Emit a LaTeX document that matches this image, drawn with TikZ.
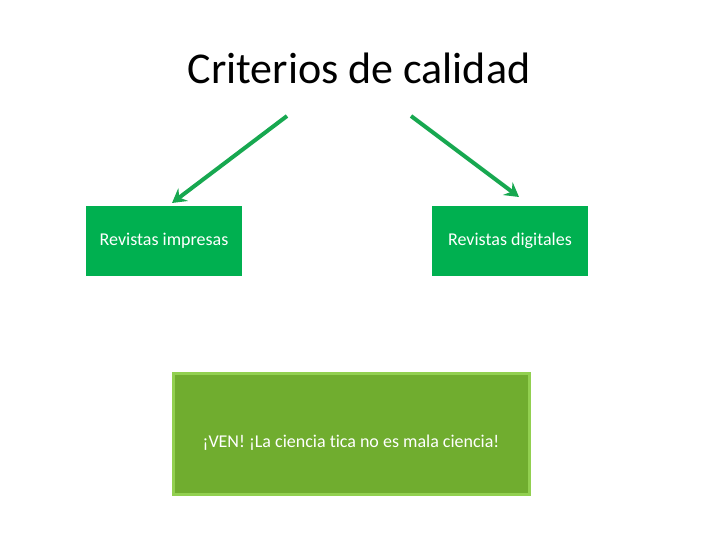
\documentclass[tikz,border=0pt]{standalone}
\usepackage{fontspec}
\setmainfont[Ligatures=NoCommon]{Carlito}
\usetikzlibrary{arrows.meta}
\definecolor{boxgreen}{HTML}{00B050}
\definecolor{arrowgreen}{HTML}{17A850}
\definecolor{leafgreen}{HTML}{70AD2F}
\definecolor{rimgreen}{HTML}{92D050}
\begin{document}
\begin{tikzpicture}[x=1pt,y=-1pt]

        \useasboundingbox (0,0) rectangle (720,540);

        \node (title) at (359,68) {\fontsize{44}{50}\selectfont Criterios de calidad};

        \begin{scope}[every node/.style={fill=boxgreen,text=white,minimum width=156pt,minimum height=70pt,inner sep=0pt,font=\fontsize{18}{21}\selectfont}]
          \node (impresas)  at (164,241)  {Revistas impresas};
          \node (digitales) at (510,241)  {Revistas digitales};
        \end{scope}

        \node[fill=leafgreen,draw=rimgreen,line width=3pt,minimum width=356pt,minimum height=121pt] (box) at (351.5,434) {};
        \node[text=white,font=\fontsize{18}{21}\selectfont] (lema) at (351,443) {¡VEN! ¡La ciencia tica no es mala ciencia!};

        \coordinate (a1) at (287,116);
        \coordinate (a2) at (411,116);
        \coordinate (b1) at (172,203);
        \coordinate (b2) at (519,197);

        \begin{scope}[every path/.style={draw=arrowgreen,line width=4pt,-{Stealth[length=14pt,width=16pt,inset=5pt]}}]
          \path (a1) -- (b1);
          \path (a2) -- (b2);
        \end{scope}

      \end{tikzpicture}
\end{document}
